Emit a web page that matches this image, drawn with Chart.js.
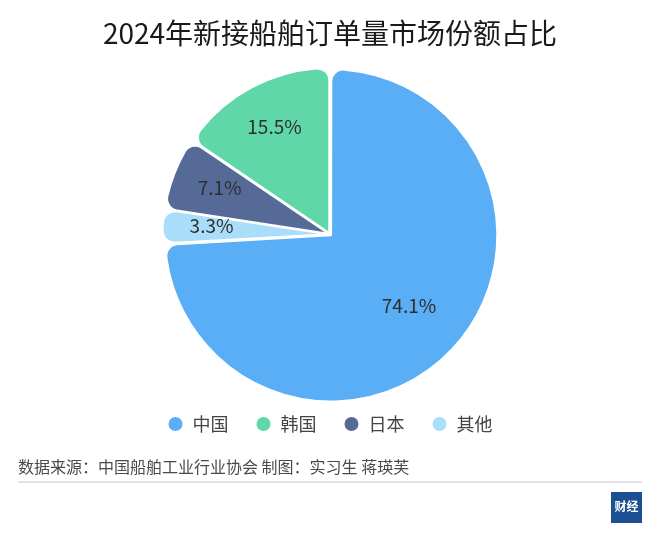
<!DOCTYPE html>
<html>
<head>
<meta charset="utf-8">
<script src="https://cdn.jsdelivr.net/npm/chart.js@4"></script>
<style>
  html, body { margin: 0; padding: 0; background: #fff; }
  #wrap { width: 660px; height: 541px; }
</style>
</head>
<body>
<div id="wrap"><canvas id="myChart" width="660" height="541"></canvas></div>
<script>
// clockwise from 12 o'clock, as in the picture
var labels = ["中国", "其他", "日本", "韩国"];
var shares = [74.1, 3.3, 7.1, 15.5];
var sliceColors = ["#5aaef5", "#a9ddf9", "#566a97", "#5fd7a9"];
// legend reads 中国, 韩国, 日本, 其他
var legendOrder = ["中国", "韩国", "日本", "其他"];

var titleText = "2024年新接船舶订单量市场份额占比";
var sourceText = "数据来源：中国船舶工业行业协会 制图：实习生 蒋瑛芙";
var cjk = "'Noto Sans CJK SC', 'Noto Sans', sans-serif";

// percent text inside each slice
var sliceLabels = {
  id: "sliceLabels",
  afterDatasetsDraw: function (chart) {
    var ctx = chart.ctx;
    var meta = chart.getDatasetMeta(0);
    ctx.save();
    ctx.font = "19px " + cjk;
    ctx.fillStyle = "#2e2e2e";
    ctx.textAlign = "center";
    ctx.textBaseline = "middle";
    meta.data.forEach(function (arc, i) {
      var p = arc.getProps(["x", "y", "startAngle", "endAngle", "outerRadius"], true);
      var mid = (p.startAngle + p.endAngle) / 2;
      var r = p.outerRadius * (i == 0 ? 0.66 : 0.72);
      ctx.fillText(shares[i].toFixed(1) + "%", p.x + Math.cos(mid) * r, p.y + Math.sin(mid) * r - 3);
    });
    ctx.restore();
  }
};

// pull the legend row up a bit so the pie gets more room
var legendLift = {
  id: "legendLift",
  afterLayout: function (chart) {
    chart.legend.top -= 15;
    chart.legend.bottom -= 15;
  }
};

// source line, rule and logo under the legend
var footer = {
  id: "footer",
  afterDraw: function (chart) {
    var ctx = chart.ctx;
    ctx.save();
    ctx.font = "16px " + cjk;
    ctx.fillStyle = "#4a4a4a";
    ctx.textBaseline = "middle";
    ctx.fillText(sourceText, 18, 467);
    ctx.fillStyle = "#e3e3e3";
    ctx.fillRect(18, 481, 624, 2);
    ctx.fillStyle = "#1d4f93";
    ctx.fillRect(611, 492, 31, 31);
    ctx.fillStyle = "#ffffff";
    ctx.font = "bold 12px " + cjk;
    ctx.textAlign = "center";
    ctx.fillText("财经", 626.5, 506);
    ctx.restore();
  }
};

new Chart("myChart", {
  type: "pie",
  data: {
    labels: labels,
    datasets: [
      {
        data: shares,
        backgroundColor: sliceColors,
        borderColor: "#ffffff",
        borderWidth: 2,
        borderRadius: 12,
        offset: 6,
      },
    ],
  },
  options: {
    responsive: false,
    animation: false,
    layout: { padding: { top: 0, bottom: 83, left: 0, right: 0 } },
    plugins: {
      title: {
        display: true,
        text: titleText,
        color: "#1a1a1a",
        font: { family: cjk, size: 28, weight: "normal" },
        padding: { top: 17, bottom: 15 },
      },
      legend: {
        position: "bottom",
        labels: {
          usePointStyle: true,
          pointStyle: "circle",
          boxWidth: 16,
          boxHeight: 11.3,
          padding: 27,
          color: "#444",
          font: { family: cjk, size: 18 },
          sort: function (a, b) {
            return legendOrder.indexOf(a.text) - legendOrder.indexOf(b.text);
          },
        },
      },
      tooltip: { enabled: false },
    },
  },
  plugins: [sliceLabels, legendLift, footer],
});
</script>
</body>
</html>
